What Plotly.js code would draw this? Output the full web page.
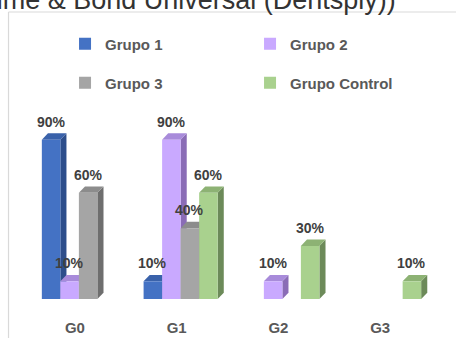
<!DOCTYPE html>
<html>
<head>
<meta charset="utf-8">
<script src="https://cdn.plot.ly/plotly-3.0.1.min.js"></script>
<style>html,body{margin:0;padding:0;background:#fff;}#chart{width:456px;height:338px;}</style>
</head>
<body>
<div id="chart"></div>
<script>
const categories = ['G0', 'G1', 'G2', 'G3'];
const seriesNames = ['Grupo 1', 'Grupo 2', 'Grupo 3', 'Grupo Control'];
const grupo1 = [90, 10, null, null];
const grupo2 = [10, 90, 10, null];
const grupo3 = [60, 40, null, null];
const grupoControl = [null, 60, 30, 10];

const seriesValues = [grupo1, grupo2, grupo3, grupoControl];
const frontColors = ['#4472C4', '#C9A9FF', '#A5A5A5', '#A9D18E'];
const topColors = ['#3A62AA', '#A88BDA', '#8C8C8C', '#8DB274'];
const sideColors = ['#2D4E8B', '#8A6CB6', '#6E6E6E', '#6C8A59'];

const barW = 0.182;
const dx = 0.06;
const dy = 3.6;
const FONT = 'Liberation Sans, Arial, sans-serif';

const traces = [];
const shapes = [];
const annotations = [];

seriesValues.forEach((vals, j) => {
  const off = (j - 1.5) * barW;
  traces.push({
    type: 'bar',
    name: seriesNames[j],
    x: categories.map((c, i) => i + off),
    y: vals,
    width: barW,
    marker: {color: frontColors[j], line: {width: 0}},
    legend: j < 2 ? 'legend' : 'legend2',
    hoverinfo: 'skip'
  });
  vals.forEach((v, i) => {
    if (v === null) return;
    const xl = i + off - barW / 2;
    const xr = xl + barW;
    shapes.push({
      type: 'path', xref: 'x', yref: 'y', layer: 'below',
      path: `M${xr},0 L${xr + dx},${dy} L${xr + dx},${v + dy} L${xr},${v} Z`,
      fillcolor: sideColors[j], line: {width: 0}
    });
    shapes.push({
      type: 'path', xref: 'x', yref: 'y', layer: 'below',
      path: `M${xl},${v} L${xl + dx},${v + dy} L${xr + dx},${v + dy} L${xr},${v} Z`,
      fillcolor: topColors[j], line: {width: 0}
    });
    annotations.push({
      x: i + off, y: v, xref: 'x', yref: 'y',
      text: v + '%', showarrow: false, yanchor: 'bottom', yshift: 8,
      font: {family: FONT, size: 14, color: '#404040', weight: 'bold'}
    });
  });
});

// chart frame (light grey border)
shapes.push({type: 'line', xref: 'paper', yref: 'paper', x0: -0.0479, x1: -0.0479, y0: -0.4, y1: 1.6215, line: {color: '#D9D9D9', width: 1.2}});
shapes.push({type: 'line', xref: 'paper', yref: 'paper', x0: -0.0479, x1: 1.2, y0: 1.6215, y1: 1.6215, line: {color: '#D9D9D9', width: 1.2}});

const legendCommon = {
  orientation: 'h', xanchor: 'left', yanchor: 'middle', x: 0.091,
  entrywidth: 140, entrywidthmode: 'pixels',
  font: {family: FONT, size: 15, color: '#595959', weight: 'bold'},
  bgcolor: 'rgba(0,0,0,0)', itemclick: false, itemdoubleclick: false
};

const layout = {
  width: 456, height: 338,
  margin: {l: 28, r: 21, t: 122, b: 39, pad: 0},
  paper_bgcolor: '#ffffff', plot_bgcolor: '#ffffff',
  barmode: 'overlay',
  showlegend: true,
  title: {
    text: 'Tiempo 1 (Prime & Bond Universal (Dentsply))',
    xref: 'container', yref: 'container', x: 0.868, xanchor: 'right', y: 1, yanchor: 'middle',
    font: {family: FONT, size: 27, color: '#333333'}
  },
  xaxis: {
    range: [-0.5, 3.5], tickvals: [0, 1, 2, 3], ticktext: categories,
    showgrid: false, zeroline: false, showline: false, ticks: '',
    ticklabelstandoff: 18, ticklabelshift: -4,
    tickfont: {family: FONT, size: 15, color: '#595959', weight: 'bold'},
    fixedrange: true
  },
  yaxis: {range: [0, 100], visible: false, fixedrange: true},
  legend: Object.assign({}, legendCommon, {y: 1.4407}),
  legend2: Object.assign({}, legendCommon, {y: 1.2203}),
  shapes: shapes,
  annotations: annotations
};

Plotly.newPlot('chart', traces, layout, {displayModeBar: false, staticPlot: true});
</script>
</body>
</html>
